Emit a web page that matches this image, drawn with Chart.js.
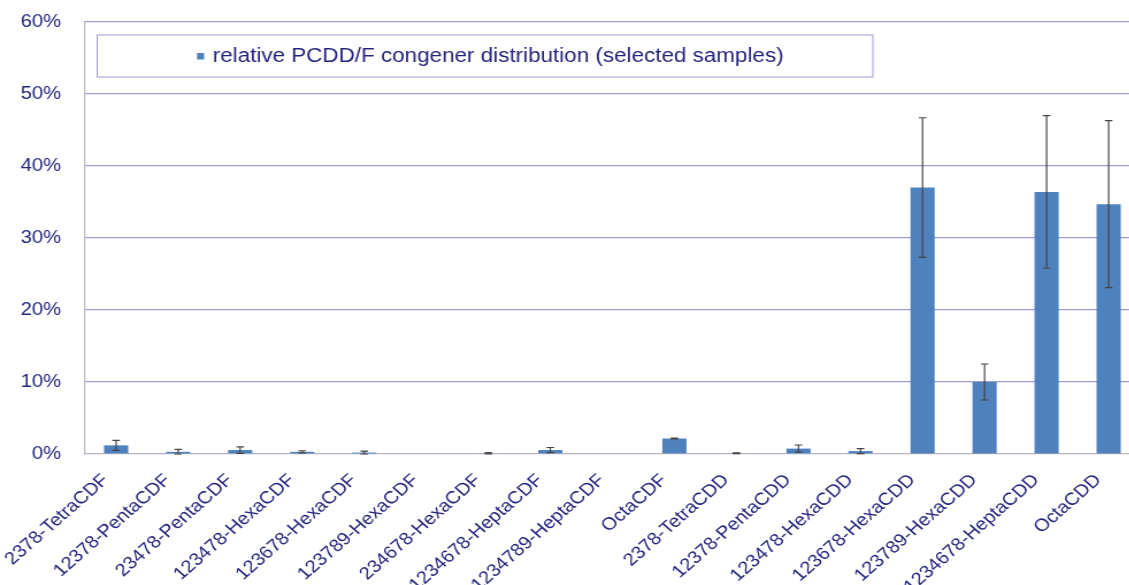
<!DOCTYPE html>
<html>
<head>
<meta charset="utf-8">
<script src="https://cdn.jsdelivr.net/npm/chart.js@4/dist/chart.umd.min.js"></script>
<style>
  html, body { margin: 0; padding: 0; background: #fff; overflow: hidden; }
  #wrap {
    position: relative;
    width: 992px;
    height: 585px;
    transform: scaleX(1.15);
    transform-origin: 0 0;
  }
</style>
</head>
<body>
<div id="wrap"><canvas id="chart"></canvas></div>
<script>
// PCDD/F congeners on the category axis
const congeners = [
  '2378-TetraCDF', '12378-PentaCDF', '23478-PentaCDF', '123478-HexaCDF',
  '123678-HexaCDF', '123789-HexaCDF', '234678-HexaCDF', '1234678-HeptaCDF',
  '1234789-HeptaCDF', 'OctaCDF', '2378-TetraCDD', '12378-PentaCDD',
  '123478-HexaCDD', '123678-HexaCDD', '123789-HexaCDD', '1234678-HeptaCDD', 'OctaCDD'
];
// mean relative share of each congener, in percent
const shares = [1.2, 0.3, 0.55, 0.3, 0.2, 0, 0.1, 0.55, 0, 2.15, 0.1, 0.75, 0.4, 37.0, 10.0, 36.4, 34.7];
// standard deviation of each share, in percent
const deviations = [0.7, 0.35, 0.45, 0.15, 0.2, 0, 0.1, 0.35, 0, 0.05, 0.05, 0.5, 0.35, 9.7, 2.5, 10.6, 11.6];
// value axis ticks
const yTicks = [0, 10, 20, 30, 40, 50, 60];
const seriesName = 'relative PCDD/F congener distribution (selected samples)';

const NAVY = '#25257e';
const GRID = '#9d9dcd';
const AXIS = '#b6b6c6';
const BAR = '#4f81bd';
const FONT = "'Liberation Sans', Arial, sans-serif";

// whiskers for the standard deviation of each bar
const errorBars = {
  id: 'errorBars',
  afterDatasetsDraw(chart) {
    const ctx = chart.ctx;
    const y = chart.scales.y;
    const meta = chart.getDatasetMeta(0);
    ctx.save();
    ctx.strokeStyle = '#454545';
    ctx.lineWidth = 1.2;
    meta.data.forEach((bar, i) => {
      const e = deviations[i];
      if (!e) return;
      const v = shares[i];
      const top = y.getPixelForValue(v + e);
      const bot = y.getPixelForValue(Math.max(v - e, 0));
      const cap = 3.3;
      ctx.beginPath();
      ctx.moveTo(bar.x, top); ctx.lineTo(bar.x, bot);
      ctx.moveTo(bar.x - cap, top); ctx.lineTo(bar.x + cap, top);
      ctx.moveTo(bar.x - cap, bot); ctx.lineTo(bar.x + cap, bot);
      ctx.stroke();
    });
    ctx.restore();
  }
};

// boxed legend inside the plot area
const boxedLegend = {
  id: 'boxedLegend',
  afterDraw(chart) {
    const ctx = chart.ctx;
    const ds = chart.data.datasets[0];
    const x0 = 84.5, x1 = 759, y0 = 35, y1 = 77;
    ctx.save();
    ctx.fillStyle = '#fff';
    ctx.strokeStyle = GRID;
    ctx.lineWidth = 1;
    ctx.fillRect(x0, y0, x1 - x0, y1 - y0);
    ctx.strokeRect(x0, y0, x1 - x0, y1 - y0);
    const cy = (y0 + y1) / 2 + 1;
    ctx.fillStyle = ds.backgroundColor;
    ctx.fillRect(171.3, cy - 4, 6.2, 6.5);
    ctx.font = '19.5px ' + FONT;
    ctx.fillStyle = NAVY;
    ctx.textBaseline = 'middle';
    ctx.fillText(ds.label, 185, cy);
    ctx.restore();
  }
};

new Chart(document.getElementById('chart'), {
  type: 'bar',
  data: {
    labels: congeners,
    datasets: [{
      label: seriesName,
      data: shares,
      backgroundColor: BAR,
      borderWidth: 0,
      barPercentage: 0.39,
      categoryPercentage: 1
    }]
  },
  options: {
    responsive: true,
    maintainAspectRatio: false,
    animation: false,
    devicePixelRatio: 1,
    layout: { autoPadding: false, padding: { top: 22, right: 1, left: 0, bottom: 0 } },
    plugins: { legend: { display: false }, tooltip: { enabled: false } },
    scales: {
      x: {
        grid: { display: false, drawTicks: false },
        border: { color: AXIS, width: 1.2 },
        ticks: {
          color: NAVY,
          font: { family: FONT, size: 17.5 },
          minRotation: 45,
          maxRotation: 45,
          autoSkip: false,
          padding: 16,
          labelOffset: -9
        },
        afterFit(scale) { scale.height = 131; scale.paddingLeft = 0; scale.paddingRight = 0; }
      },
      y: {
        min: 0,
        max: 60,
        afterBuildTicks(scale) { scale.ticks = yTicks.map(v => ({ value: v })); },
        grid: {
          color: ctx => (ctx.tick && ctx.tick.value === 0) ? 'rgba(0,0,0,0)' : GRID,
          lineWidth: 1.2,
          drawTicks: false
        },
        border: { color: AXIS, width: 1.2 },
        ticks: {
          color: NAVY,
          font: { family: FONT, size: 17.5 },
          padding: 21,
          callback: v => v + '%'
        },
        afterFit(scale) { scale.width = 74; scale.paddingTop = 0; scale.paddingBottom = 0; }
      }
    }
  },
  plugins: [errorBars, boxedLegend]
});
</script>
</body>
</html>
